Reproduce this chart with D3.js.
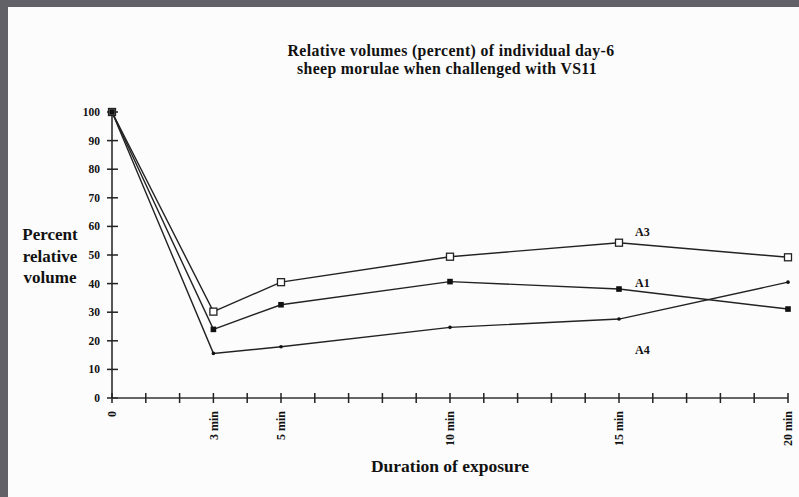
<!DOCTYPE html>
<html><head><meta charset="utf-8">
<script src="https://cdn.jsdelivr.net/npm/d3@7"></script>
<style>
html,body{margin:0;padding:0;background:#636168;}
svg{display:block;}
text{font-family:"Liberation Serif","Times New Roman",serif;font-weight:bold;fill:#111;}
</style></head>
<body>
<svg id="c" width="799" height="497"></svg>
<script>
const minutes = [0, 3, 5, 10, 15, 20];
const seriesNames = ["A3", "A1", "A4"];
const valuesA3 = [100, 30.2, 40.5, 49.4, 54.3, 49.2];
const valuesA1 = [100, 24.0, 32.6, 40.7, 38.1, 31.1];
const valuesA4 = [100, 15.6, 17.9, 24.7, 27.6, 40.5];
const yTicks = [0, 10, 20, 30, 40, 50, 60, 70, 80, 90, 100];
const xTickLabels = [[0, "0"], [3, "3 min"], [5, "5 min"], [10, "10 min"], [15, "15 min"], [20, "20 min"]];
const titleLines = ["Relative volumes (percent) of individual day-6", "sheep morulae when challenged with VS11"];
const yTitleLines = ["Percent", "relative", "volume"];
const xTitle = "Duration of exposure";
const seriesLabels = [["A3", 15, 54.3], ["A1", 15, 38.1], ["A4", 15, 27.6]];

const svg = d3.select("#c");
svg.append("rect").attr("x", 8).attr("y", 7).attr("width", 791).attr("height", 490).attr("fill", "#fcfcfc");

const x = d3.scaleLinear().domain([0, 20]).range([112, 788]);
const y = d3.scaleLinear().domain([0, 100]).range([398, 112]);

// title
svg.append("text").attr("x", 451).attr("y", 56).attr("text-anchor", "middle").style("font-size", "15.8px").style("letter-spacing", "0.35px").text(titleLines[0]);
svg.append("text").attr("x", 447).attr("y", 74).attr("text-anchor", "middle").style("font-size", "15.8px").style("letter-spacing", "0.35px").text(titleLines[1]);

// y axis
const gy = svg.append("g").attr("transform", `translate(${x(0)},0)`);
gy.append("line").attr("y1", y(0)).attr("y2", y(100)).attr("stroke", "#222").attr("stroke-width", 1.5);
gy.selectAll("line.t").data(yTicks).join("line").attr("class", "t")
  .attr("x1", -5).attr("x2", 6).attr("y1", d => y(d)).attr("y2", d => y(d)).attr("stroke", "#222").attr("stroke-width", 1.5);
gy.selectAll("text.l").data(yTicks).join("text").attr("class", "l")
  .attr("x", -12).attr("y", d => y(d)).attr("dy", "0.35em").attr("text-anchor", "end").style("font-size", "11.5px").text(d => d);

// x axis
const xTicks = d3.range(0, 21);
const gx = svg.append("g").attr("transform", `translate(0,${y(0)})`);
gx.append("line").attr("x1", x(0)).attr("x2", x(20)).attr("stroke", "#333").attr("stroke-width", 1.5);
gx.selectAll("line.t").data(xTicks).join("line").attr("class", "t")
  .attr("x1", d => x(d)).attr("x2", d => x(d)).attr("y1", -5).attr("y2", 5).attr("stroke", "#222").attr("stroke-width", 1.5);
gx.selectAll("text.l").data(xTickLabels).join("text").attr("class", "l")
  .attr("transform", d => `translate(${x(d[0])},13) rotate(-90)`)
  .attr("dy", "0.35em").attr("text-anchor", "end").style("font-size", "12px").text(d => d[1]);

// axis titles
svg.append("text").attr("x", 450).attr("y", 472).attr("text-anchor", "middle").style("font-size", "17.5px").text(xTitle);
svg.selectAll("text.yt").data(yTitleLines).join("text").attr("class", "yt")
  .attr("x", 50).attr("y", (d, i) => 240 + i * 21.5).attr("text-anchor", "middle").style("font-size", "17px").text(d => d);

// lines
const line = d3.line().x((d, i) => x(minutes[i])).y(d => y(d));
[valuesA3, valuesA1, valuesA4].forEach(v => {
  svg.append("path").attr("d", line(v)).attr("fill", "none").attr("stroke", "#222").attr("stroke-width", 1.4);
});
// markers
svg.selectAll("rect.a3").data(valuesA3).join("rect").attr("class", "a3")
  .attr("x", (d, i) => x(minutes[i]) - 3.5).attr("y", d => y(d) - 3.5).attr("width", 7).attr("height", 7)
  .attr("fill", "#fff").attr("stroke", "#222").attr("stroke-width", 1.3);
svg.selectAll("rect.a1").data(valuesA1).join("rect").attr("class", "a1")
  .attr("x", (d, i) => x(minutes[i]) - 2.8).attr("y", d => y(d) - 2.8).attr("width", 5.6).attr("height", 5.6)
  .attr("fill", "#111");
svg.selectAll("circle.a4").data(valuesA4).join("circle").attr("class", "a4")
  .attr("cx", (d, i) => x(minutes[i])).attr("cy", d => y(d)).attr("r", 1.8).attr("fill", "#111");

// series labels
const labelOffsets = {A3: -7, A1: -2, A4: 35};
svg.selectAll("text.sl").data(seriesLabels).join("text").attr("class", "sl")
  .attr("x", d => x(d[1]) + 16).attr("y", d => y(d[2]) + labelOffsets[d[0]])
  .attr("text-anchor", "start").style("font-size", "12px").text(d => d[0]);
</script>
</body></html>
